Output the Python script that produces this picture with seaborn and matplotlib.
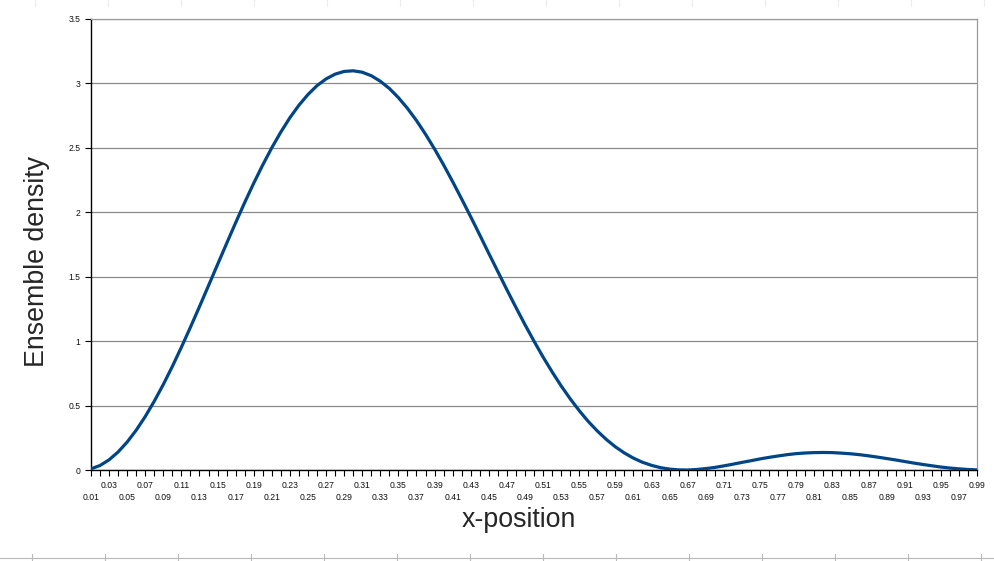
import numpy as np
import matplotlib
matplotlib.use("Agg")
import matplotlib.pyplot as plt
import seaborn as sns
from matplotlib.lines import Line2D

# x-position categories 0.01 .. 0.99
x_pos = np.round(np.arange(1, 100) * 0.01, 2)

# ensemble density, one value per category
density = [
    0.009, 0.035, 0.079, 0.140, 0.217, 0.309, 0.415, 0.534, 0.664, 0.804,
    0.953, 1.108, 1.268, 1.431, 1.595, 1.758, 1.919, 2.076, 2.226, 2.368,
    2.501, 2.623, 2.734, 2.831, 2.914, 2.983, 3.035, 3.072, 3.093, 3.098,
    3.087, 3.060, 3.017, 2.961, 2.890, 2.807, 2.712, 2.606, 2.491, 2.368,
    2.238, 2.103, 1.965, 1.824, 1.681, 1.540, 1.399, 1.262, 1.128, 1.000,
    0.877, 0.762, 0.653, 0.553, 0.461, 0.377, 0.303, 0.237, 0.180, 0.132,
    0.092, 0.060, 0.036, 0.018, 0.007, 0.001, 0.000, 0.004, 0.011, 0.020,
    0.032, 0.045, 0.059, 0.072, 0.086, 0.098, 0.109, 0.119, 0.127, 0.132,
    0.135, 0.136, 0.135, 0.131, 0.126, 0.119, 0.110, 0.100, 0.089, 0.078,
    0.066, 0.054, 0.043, 0.033, 0.023, 0.015, 0.009, 0.004, 0.001,
]

y_ticks = [0, 0.5, 1, 1.5, 2, 2.5, 3, 3.5]
y_tick_labels = ["0", "0.5", "1", "1.5", "2", "2.5", "3", "3.5"]

sns.set_style("white")
plt.rcParams['font.family'] = ['Liberation Sans', 'DejaVu Sans']

W, H = 994, 561
fig = plt.figure(figsize=(W / 100, H / 100), dpi=100)
ax = fig.add_axes([91 / W, 91 / H, 886 / W, 451 / H])

sns.lineplot(x=x_pos, y=density, color='#004586', linewidth=2.3,
             estimator=None, ax=ax, zorder=3)

ax.set_xlim(0.01, 0.99)
ax.set_ylim(0, 3.5)

# y axis
ax.set_yticks(y_ticks)
ax.set_yticklabels(y_tick_labels)
ax.yaxis.grid(True, color='#8a8a8a', linewidth=0.9)
ax.set_axisbelow(True)

# x axis: a tick at every category, labels on every other one, staggered
labels = []
for i, v in enumerate(x_pos):
    if i % 2 == 1:
        labels.append("")
    elif (i // 2) % 2 == 0:
        labels.append("\n%.2f" % v)
    else:
        labels.append("%.2f" % v)
ax.set_xticks(x_pos)
ax.set_xticklabels(labels)
plt.setp(ax.get_xticklabels(), linespacing=1.45)

ax.tick_params(axis='both', direction='out', length=4.5, width=0.8,
               color='black', labelsize=6.2, labelcolor='#111111')
ax.tick_params(axis='y', pad=3)
ax.tick_params(axis='x', pad=3.5, bottom=True)
ax.tick_params(axis='y', left=True)

for side in ['left', 'bottom']:
    ax.spines[side].set_color('black')
    ax.spines[side].set_linewidth(1.0)
for side in ['right', 'top']:
    ax.spines[side].set_color('#9a9a9a')
    ax.spines[side].set_linewidth(0.9)

ax.set_xlabel("x-position", fontsize=19.3)
ax.set_ylabel("Ensemble density", fontsize=19.3)
ax.xaxis.set_label_coords(0.483, -0.111)
ax.xaxis.label.set_verticalalignment('center')
ax.yaxis.set_label_coords(-0.061, 0.462)
ax.yaxis.label.set_verticalalignment('center')

# faint spreadsheet cell borders behind the chart
fig.add_artist(Line2D([0, 1], [3 / H, 3 / H], transform=fig.transFigure,
                      color='#b8b8b8', linewidth=0.8))
for px in range(32, W, 73):
    fig.add_artist(Line2D([px / W, px / W], [0, 7 / H], transform=fig.transFigure,
                          color='#b8b8b8', linewidth=0.8))
for px in range(35, W, 73):
    fig.add_artist(Line2D([px / W, px / W], [1 - 6 / H, 1], transform=fig.transFigure,
                          color='#ececec', linewidth=0.8))

fig.savefig("out.png", dpi=100)
